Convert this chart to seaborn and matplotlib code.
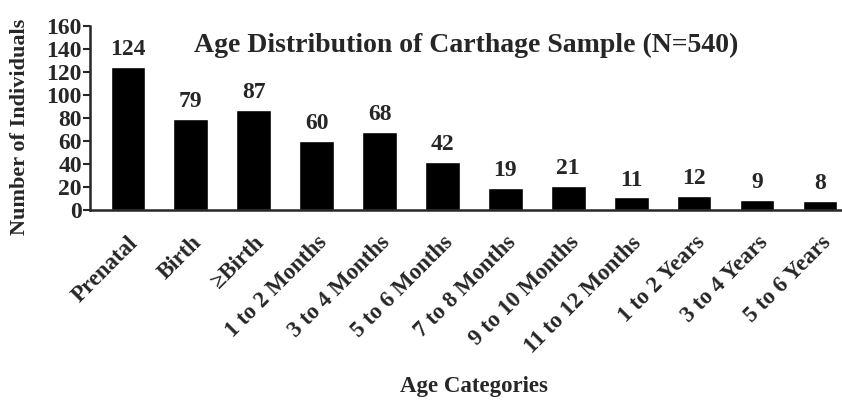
import numpy as np
import pandas as pd
import matplotlib
matplotlib.use("Agg")
import matplotlib.pyplot as plt
import seaborn as sns

categories = ["Prenatal", "Birth", "\u2265Birth", "1 to 2 Months", "3 to 4 Months",
              "5 to 6 Months", "7 to 8 Months", "9 to 10 Months", "11 to 12 Months",
              "1 to 2 Years", "3 to 4 Years", "5 to 6 Years"]
counts = [124, 79, 87, 60, 68, 42, 19, 21, 11, 12, 9, 8]

sns.set_style("white")
plt.rcParams['font.family'] = ['Liberation Serif', 'DejaVu Serif']
plt.rcParams['font.weight'] = 'bold'

df = pd.DataFrame({"cat": categories, "n": counts})

fig = plt.figure(figsize=(8.42, 4.04), dpi=100)
ax = fig.add_axes([0.107, 0.480, 0.893, 0.456])
sns.barplot(data=df, x="cat", y="n", color="black", width=0.55, saturation=1, ax=ax)

for i, v in enumerate(counts):
    ax.text(i, v + 6, str(v), ha='center', va='bottom', fontsize=17, fontweight='bold')

ax.set_ylim(0, 160)
ax.set_xlim(-0.6, 11.35)
ax.set_yticks(np.arange(0, 161, 20))
ax.tick_params(axis='y', labelsize=17, length=5, width=1.5, direction='out', left=True, pad=1)
ax.tick_params(axis='x', length=0, labelsize=16.5, pad=16)
plt.setp(ax.get_xticklabels(), rotation=45, ha='right', rotation_mode='anchor', fontweight='bold')
plt.setp(ax.get_yticklabels(), fontweight='bold')

ax.set_ylabel("Number of Individuals", fontsize=16, fontweight='bold')
ax.yaxis.set_label_coords(-0.08, 0.45)
ax.set_xlabel("")
fig.text(0.563, 0.03, "Age Categories", ha='center', fontsize=16.5, fontweight='bold')
ax.text(0.5, 0.96, "Age Distribution of Carthage Sample (N=540)", transform=ax.transAxes,
        ha='center', va='top', fontsize=20, fontweight='bold')

ax.spines['top'].set_visible(False)
ax.spines['right'].set_visible(False)
ax.spines['left'].set_linewidth(1.8)
ax.spines['bottom'].set_linewidth(1.8)

fig.savefig("out.png", dpi=100)
